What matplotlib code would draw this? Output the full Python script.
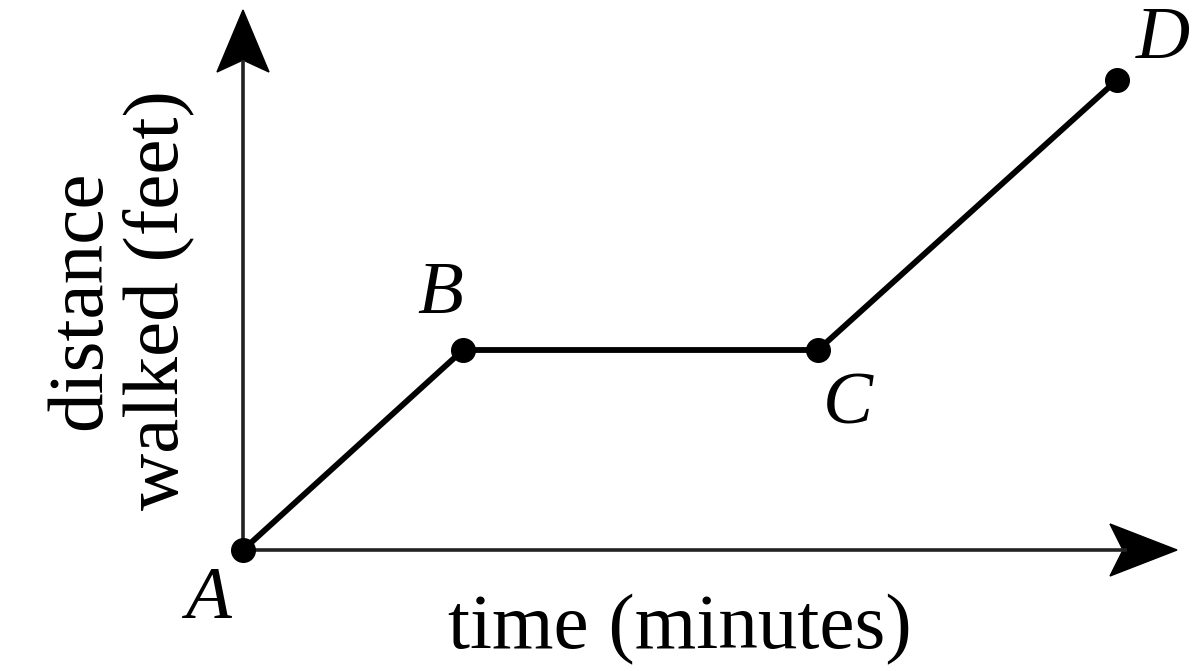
import matplotlib
matplotlib.use('Agg')
import matplotlib.pyplot as plt
from matplotlib.patches import Polygon

# points of the walk: time (minutes) vs distance walked (feet)
labels = ['A', 'B', 'C', 'D']
time = [0, 2.2, 5.75, 8.74]
distance = [0, 2.0, 2.0, 4.7]

plt.rcParams['font.family'] = ['Liberation Serif', 'DejaVu Serif']

fig = plt.figure(figsize=(12.02, 6.71), dpi=100)
ax = fig.add_axes([0, 0, 1, 1])
ax.set_xlim(-2.43, 9.59)
ax.set_ylim(-1.21, 5.5)
ax.axis('off')

# axes with stealth-style arrowheads
x_end, y_end = 9.34, 5.4
ax.plot([0, x_end - 0.5], [0, 0], color='#222222', lw=2.6, solid_capstyle='butt')
ax.plot([0, 0], [0, y_end - 0.5], color='#222222', lw=2.6, solid_capstyle='butt')
ax.add_patch(Polygon([(x_end, 0), (x_end - 0.67, 0.26), (x_end - 0.54, 0),
                      (x_end - 0.67, -0.26)], closed=True, color='black'))
ax.add_patch(Polygon([(0, y_end), (-0.26, y_end - 0.62), (0, y_end - 0.5),
                      (0.26, y_end - 0.62)], closed=True, color='black'))

# the walk
ax.plot(time, distance, color='black', lw=4.2, marker='o', markersize=17,
        solid_joinstyle='round', zorder=3)

offsets = {'A': (-0.35, -0.5), 'B': (-0.23, 0.55), 'C': (0.3, -0.56), 'D': (0.46, 0.4)}
for lab, t, d in zip(labels, time, distance):
    dx, dy = offsets[lab]
    ax.text(t + dx, d + dy, lab, fontsize=54, style='italic', ha='center', va='center')

ax.text(4.37, -0.8, 'time (minutes)', fontsize=57, ha='center', va='center')
ax.text(-1.23, 2.5, 'distance\nwalked (feet)', fontsize=57, rotation=90,
        ha='center', va='center', multialignment='center', linespacing=1.1)

fig.savefig('out.png', dpi=100)
